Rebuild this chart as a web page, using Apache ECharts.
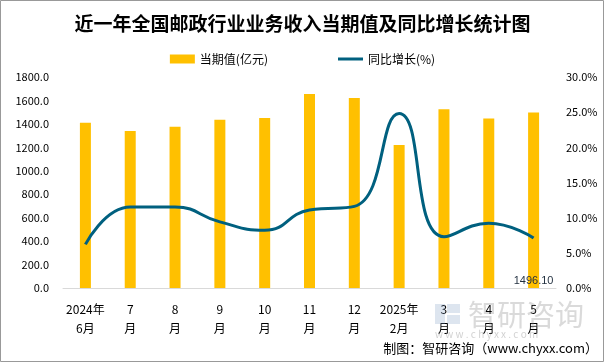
<!DOCTYPE html>
<html><head><meta charset="utf-8">
<script src="https://cdn.jsdelivr.net/npm/echarts@6/dist/echarts.min.js"></script>
<style>html,body{margin:0;padding:0;background:#fff}#c{width:605px;height:363px}</style>
</head><body><div id="c"></div>
<script>
const categories = ['2024年\n6月','7\n月','8\n月','9\n月','10\n月','11\n月','12\n月','2025年\n2月','3\n月','4\n月','5\n月'];
const revenue = [1410, 1340, 1375, 1435, 1450, 1655, 1620, 1220, 1525, 1445, 1496.10];
const growth = [6.2, 11.5, 11.5, 9.4, 8.2, 11.1, 11.6, 24.8, 7.3, 9.2, 7.1];
const leftTicks = {min: 0, max: 1800, interval: 200};
const rightTicks = {min: 0, max: 30, interval: 5};

const chart = echarts.init(document.getElementById('c'));
const font = 'SimHei, "Noto Sans CJK SC", sans-serif';
const wm = 'rgba(140,140,140,0.32)';
chart.setOption({
  animation: false,
  backgroundColor: '#fff',
  title: {
    text: '近一年全国邮政行业业务收入当期值及同比增长统计图',
    left: 'center', top: 9,
    textStyle: {fontSize: 19, fontWeight: 'bold', color: '#000', fontFamily: font}
  },
  legend: {
    top: 48, left: 'center', itemGap: 70, itemWidth: 25, itemHeight: 9,
    textStyle: {fontSize: 12, color: '#000', fontFamily: font},
    data: [{name: '当期值(亿元)', icon: 'rect'}, {name: '同比增长(%)', icon: 'path://M0,0H25V3H0Z', itemStyle: {color: '#00607F'}}]
  },
  grid: {left: 63, right: 49, top: 77, bottom: 75},
  xAxis: {
    type: 'category', data: categories,
    axisLine: {lineStyle: {color: '#D9D9D9', width: 1}},
    axisTick: {show: false},
    axisLabel: {color: '#000', fontSize: 12, lineHeight: 19, margin: 12, interval: 0, fontFamily: font}
  },
  yAxis: [
    {type: 'value', min: leftTicks.min, max: leftTicks.max, interval: leftTicks.interval,
     splitLine: {show: false}, axisLine: {show: false}, axisTick: {show: false},
     axisLabel: {color: '#000', fontSize: 11, margin: 14, formatter: v => v.toFixed(1), fontFamily: font}},
    {type: 'value', min: rightTicks.min, max: rightTicks.max, interval: rightTicks.interval,
     splitLine: {show: false}, axisLine: {show: false}, axisTick: {show: false},
     axisLabel: {color: '#000', fontSize: 11, margin: 10, formatter: v => v.toFixed(1) + '%', fontFamily: font}}
  ],
  series: [
    {name: '当期值(亿元)', type: 'bar', data: revenue, barWidth: 11, yAxisIndex: 0,
     itemStyle: {color: '#FFC000'},
     label: {show: true, position: 'insideBottom', distance: 2, color: '#1F2D3D', fontSize: 11,
       formatter: p => p.dataIndex === revenue.length - 1 ? p.value.toFixed(2) : ''}},
    {name: '同比增长(%)', type: 'line', data: growth, yAxisIndex: 1, smooth: 0.5,
     symbol: 'none', lineStyle: {color: '#00607F', width: 3}, itemStyle: {color: '#00607F'}}
  ],
  graphic: [
    {type: 'rect', shape: {x: 0.5, y: 0.5, width: 603, height: 361}, style: {fill: 'none', stroke: '#999', lineWidth: 1}, z: 100},
    {type: 'text', left: 468, top: 300, style: {text: '智研咨询', fill: wm, fontSize: 29, fontFamily: font}, z: 50},
    {type: 'text', left: 435, top: 329, style: {text: 'w w w . c h y x x . c o m', fill: 'rgba(140,140,140,0.4)', fontSize: 10, fontFamily: font}, z: 70},
    {type: 'rect', shape: {x: 435, y: 304, width: 10, height: 20}, style: {fill: 'rgba(120,150,190,0.25)'}, z: 50},
    {type: 'rect', shape: {x: 447, y: 304, width: 13, height: 9}, style: {fill: 'rgba(120,150,190,0.25)'}, z: 50},
    {type: 'rect', shape: {x: 447, y: 315, width: 13, height: 9}, style: {fill: 'rgba(120,150,190,0.25)'}, z: 50},
    {type: 'text', right: 7, top: 342, style: {text: '制图：智研咨询（www.chyxx.com）', fill: '#000', fontSize: 13, fontFamily: font}, z: 60}
  ]
});
</script></body></html>
